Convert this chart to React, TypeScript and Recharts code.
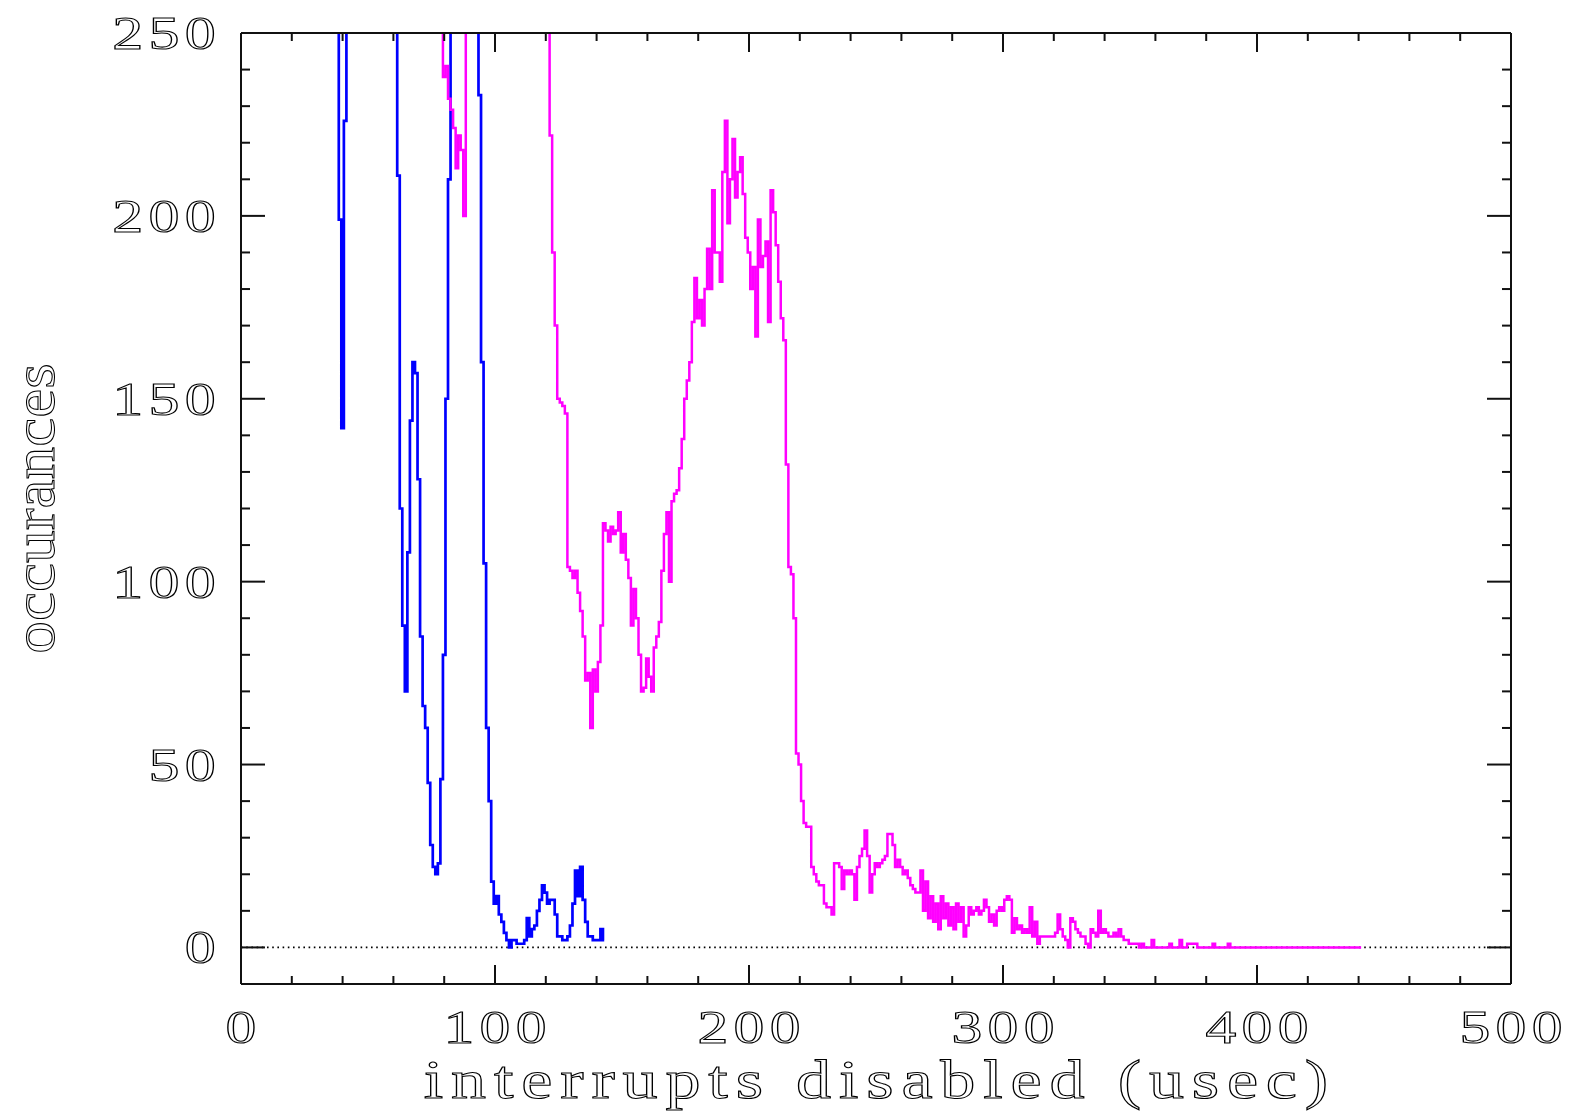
import React from 'react';
import { LineChart, Line, XAxis, YAxis, Customized } from 'recharts';

// ---------- data ----------
const xTicks = [0, 20, 40, 60, 80, 100, 120, 140, 160, 180, 200, 220, 240, 260, 280, 300, 320, 340, 360, 380, 400, 420, 440, 460, 480, 500];
const xTickLabels = [0, 100, 200, 300, 400, 500];
const yTicks = [0, 10, 20, 30, 40, 50, 60, 70, 80, 90, 100, 110, 120, 130, 140, 150, 160, 170, 180, 190, 200, 210, 220, 230, 240, 250];
const yTickLabels = [0, 50, 100, 150, 200, 250];
const xTitle = 'interrupts disabled (usec)';
const yTitle = 'occurances';

// histogram bins are 1 usec wide; first bin of each series:
const blueStart = 37;
const blueCounts = [
  300, 300, 199, 142, 226,
  300, 300, 300, 300, 300, 300, 300, 300, 300, 300,
  300, 300, 300, 300, 300, 300, 300, 300, 300, 300,
  211, 120, 88, 70, 108, 144, 160, 157, 128, 85,
  66, 60, 45, 28, 22, 20, 23, 46, 80, 150,
  210,
  300, 300, 300, 300, 300, 300, 300, 300, 300, 300, 300,
  233, 160, 105, 60, 40, 18, 12, 14, 9, 7,
  4, 2, 0, 2, 2, 1, 1, 1, 2, 8,
  3, 5, 6, 10, 13, 17, 15, 12, 13, 13,
  9, 3, 3, 2, 2, 3, 6, 12, 21, 14,
  22, 13, 7, 3, 3, 2, 2, 2, 5, 2,
];

const magentaStart = 79;
const magentaCounts = [
  300, 238, 241, 232, 229, 224, 213, 222, 218, 200,
  300, 300, 300, 300, 300, 300, 300, 300, 300, 300, 300,
  300, 300, 300, 300, 300, 300, 300, 300, 300, 300, 300,
  300, 300, 300, 300, 300, 300, 300, 300, 300, 300, 300,
  222, 190, 170, 150, 149, 148, 146, 104, 103, 101,
  103, 97, 92, 85, 73, 75, 60, 76, 70, 78,
  88, 116, 114, 111, 115, 113, 114, 119, 108, 113,
  106, 101, 88, 98, 90, 80, 70, 71, 79, 74,
  70, 82, 85, 89, 103, 113, 119, 100, 122, 124,
  125, 131, 139, 150, 155, 160, 171, 183, 172, 177,
  170, 180, 191, 180, 207, 190, 190, 182, 212, 226,
  198, 210, 221, 205, 212, 216, 206, 194, 190, 180,
  186, 167, 199, 186, 189, 193, 171, 207, 201, 192,
  182, 172, 166, 132, 104, 102, 90, 53, 50, 40,
  34, 33, 33, 22, 20, 18, 17, 17, 12, 11,
  11, 9, 23, 23, 22, 16, 21, 20, 21, 20,
  13, 22, 25, 27, 32, 25, 15, 20, 23, 22,
  23, 24, 25, 31, 31, 28, 22, 24, 22, 20,
  21, 19, 17, 16, 15, 15, 21, 10, 18, 8,
  14, 7, 12, 5, 14, 8, 12, 6, 11, 5,
  12, 7, 11, 3, 6, 11, 9, 10, 11, 9,
  10, 13, 11, 7, 9, 6, 10, 11, 10, 13,
  14, 13, 4, 8, 5, 6, 4, 5, 4, 11,
  3, 7, 1, 3, 3, 3, 3, 3, 3, 4,
  9, 5, 3, 2, 0, 8, 7, 5, 4, 3,
  3, 1, 0, 5, 4, 3, 10, 4, 5, 4,
  3, 3, 4, 3, 5, 3, 2, 2, 1, 1,
  1, 1, 0, 1, 0, 0, 0, 2, 0, 0,
  0, 0, 0, 0, 1, 0, 0, 0, 2, 0,
  0, 1, 1, 1, 1, 0, 0, 0, 0, 0,
  0, 1, 0, 0, 0, 0, 0, 1, 0, 0,
  0, 0, 0, 0, 0, 0, 0, 0, 0, 0,
  0, 0, 0, 0, 0, 0, 0, 0, 0, 0,
  0, 0, 0, 0, 0, 0, 0, 0, 0, 0,
  0, 0, 0, 0, 0, 0, 0, 0, 0, 0,
  0, 0, 0, 0, 0, 0, 0, 0, 0, 0,
];

const baselineX = [0, 500];
const baselineY = [0, 0];

const blueData = blueCounts.map((n, i) => ({ t: blueStart + i, n }));
const magentaData = magentaCounts.map((n, i) => ({ t: magentaStart + i, n }));
const baselineData = baselineX.map((t, i) => ({ t, n: baselineY[i] }));

// ---------- layout / style ----------
const W = 1574;
const H = 1116;
const PLOT_LEFT = 241;
const PLOT_RIGHT = 1511;
const PLOT_TOP = 33;
const PLOT_BOTTOM = 984;
const FONT = "'Liberation Serif', 'Times New Roman', serif";
const FRAME = '#111';

const textStyle = {
  fontFamily: FONT,
  fill: '#fff',
  stroke: '#000',
  strokeWidth: 1.05,
} as const;

function BottomTick(props: any) {
  const { x, y, payload } = props;
  const v = payload.value;
  const major = v % 100 === 0;
  const len = major ? 19 : 8;
  return (
    <g>
      <line x1={x} y1={y} x2={x} y2={y - len} stroke={FRAME} strokeWidth={2} />
      {xTickLabels.includes(v) && (
        <text
          transform={`translate(${x},${y + 59}) scale(1.34,1)`}
          textAnchor="middle"
          fontSize={46}
          letterSpacing={4}
          dx={2}
          style={textStyle}
        >
          {v}
        </text>
      )}
    </g>
  );
}

function TopTick(props: any) {
  const { x, y, payload } = props;
  const major = payload.value % 100 === 0;
  const len = major ? 19 : 8;
  return <line x1={x} y1={y} x2={x} y2={y + len} stroke={FRAME} strokeWidth={2} />;
}

function LeftTick(props: any) {
  const { x, y, payload } = props;
  const v = payload.value;
  const major = v % 50 === 0;
  const len = major ? 24 : 9;
  return (
    <g>
      <line x1={x} y1={y} x2={x + len} y2={y} stroke={FRAME} strokeWidth={2} />
      {yTickLabels.includes(v) && (
        <text
          transform={`translate(${x - 20},${y + 16}) scale(1.32,1)`}
          textAnchor="end"
          fontSize={47}
          letterSpacing={4}
          style={textStyle}
        >
          {v}
        </text>
      )}
    </g>
  );
}

function RightTick(props: any) {
  const { x, y, payload } = props;
  const major = payload.value % 50 === 0;
  const len = major ? 24 : 9;
  return <line x1={x} y1={y} x2={x - len} y2={y} stroke={FRAME} strokeWidth={2} />;
}

function Titles() {
  const cx = (PLOT_LEFT + PLOT_RIGHT) / 2;
  const cy = (PLOT_TOP + PLOT_BOTTOM) / 2;
  return (
    <g>
      <text
        transform={`translate(${cx},1098) scale(1.3,1)`}
        textAnchor="middle"
        fontSize={54}
        letterSpacing={6}
        dx={3}
        style={textStyle}
      >
        {xTitle}
      </text>
      <text
        transform={`translate(54,${cy}) rotate(-90) scale(1.09,1)`}
        textAnchor="middle"
        fontSize={60}
        style={textStyle}
      >
        {yTitle}
      </text>
    </g>
  );
}

export default function App() {
  return (
    <div style={{ position: 'absolute', left: 0, top: 0, width: W, height: H, background: '#fff' }}>
      <LineChart
        width={W}
        height={H}
        margin={{ top: PLOT_TOP - 20, right: W - PLOT_RIGHT - 20, bottom: H - PLOT_BOTTOM - 100, left: PLOT_LEFT - 200 }}
      >
        <XAxis
          xAxisId="bottom"
          dataKey="t"
          type="number"
          domain={[0, 500]}
          allowDataOverflow
          ticks={xTicks}
          interval={0}
          height={100}
          tickSize={0}
          tickMargin={0}
          tickLine={false}
          axisLine={{ stroke: FRAME, strokeWidth: 2 }}
          tick={<BottomTick />}
        />
        <XAxis
          xAxisId="top"
          orientation="top"
          dataKey="t"
          type="number"
          domain={[0, 500]}
          allowDataOverflow
          ticks={xTicks}
          interval={0}
          height={20}
          tickSize={0}
          tickMargin={0}
          tickLine={false}
          axisLine={{ stroke: FRAME, strokeWidth: 2 }}
          tick={<TopTick />}
        />
        <YAxis
          yAxisId="left"
          type="number"
          domain={[-10, 250]}
          allowDataOverflow
          ticks={yTicks}
          interval={0}
          width={200}
          tickSize={0}
          tickMargin={0}
          tickLine={false}
          axisLine={{ stroke: FRAME, strokeWidth: 2 }}
          tick={<LeftTick />}
        />
        <YAxis
          yAxisId="right"
          orientation="right"
          type="number"
          domain={[-10, 250]}
          allowDataOverflow
          ticks={yTicks}
          interval={0}
          width={20}
          tickSize={0}
          tickMargin={0}
          tickLine={false}
          axisLine={{ stroke: FRAME, strokeWidth: 2 }}
          tick={<RightTick />}
        />
        <Line
          data={baselineData}
          dataKey="n"
          xAxisId="top"
          yAxisId="right"
          type="linear"
          stroke="#000"
          strokeWidth={1.6}
          strokeDasharray="1.6 3.6"
          dot={false}
          isAnimationActive={false}
        />
        <Line
          data={blueData}
          dataKey="n"
          xAxisId="bottom"
          yAxisId="left"
          type="step"
          stroke="#0000ff"
          strokeWidth={2.7}
          dot={false}
          isAnimationActive={false}
        />
        <Line
          data={magentaData}
          dataKey="n"
          xAxisId="bottom"
          yAxisId="left"
          type="step"
          stroke="#ff00ff"
          strokeWidth={2.5}
          dot={false}
          isAnimationActive={false}
        />
        <Customized component={Titles} />
      </LineChart>
    </div>
  );
}
